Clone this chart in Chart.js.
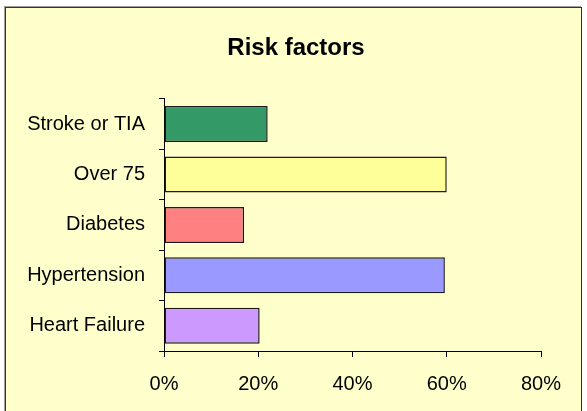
<!DOCTYPE html>
<html lang="en">
<head>
  <meta charset="UTF-8" />
  <title>Risk factors</title>
  <script src="https://cdn.jsdelivr.net/npm/chart.js"></script>
  <style>
    body {
      margin: 0;
      background-color: #ffffff;
    }
    .box {
      position: absolute;
      left: 5px;
      top: 7px;
      width: 575px;
      height: 420px;
      background-color: #FFFFCC;
      border: 1px solid #333333;
      box-shadow: -1px -1px 0 #a0a0a0;
    }
    canvas {
      position: absolute;
      left: 0;
      top: 0;
    }
  </style>
</head>
<body>
  <div class="box"></div>
  <canvas id="riskChart" width="587" height="411"></canvas>

  <script>
    const categories = ["Stroke or TIA", "Over 75", "Diabetes", "Hypertension", "Heart Failure"];
    const percentValues = [22, 60, 17, 59.6, 20.3];
    const barColors = ["#339966", "#FFFF99", "#FF8080", "#9999FF", "#CC99FF"];
    const tickValues = [0, 20, 40, 60, 80];

    const font = "'Liberation Sans', Arial, sans-serif";

    const ctx = document.getElementById("riskChart").getContext("2d");

    // title is centred on the whole box, not on the padded area
    const centerTitle = {
      id: "centerTitle",
      afterLayout(chart) {
        if (chart.titleBlock) {
          chart.titleBlock.left = 5;
          chart.titleBlock.right = 587;
        }
      }
    };

    new Chart(ctx, {
      type: "bar",
      data: {
        labels: categories,
        datasets: [{
          data: percentValues,
          backgroundColor: barColors,
          borderColor: "#1a1a1a",
          borderWidth: 1.5,
          borderSkipped: false,
          barPercentage: 0.714,
          categoryPercentage: 1
        }]
      },
      options: {
        indexAxis: "y",
        responsive: false,
        animation: false,
        devicePixelRatio: 1,
        layout: {
          padding: { top: 20, left: 0, right: 46, bottom: 0 }
        },
        plugins: {
          legend: { display: false },
          tooltip: { enabled: false },
          title: {
            display: true,
            text: "Risk factors",
            color: "#000000",
            font: { family: font, size: 24, weight: "bold" },
            padding: { top: 14, bottom: 36 }
          }
        },
        scales: {
          x: {
            min: 0,
            max: 80,
            afterBuildTicks: scale => {
              scale.ticks = tickValues.map(v => ({ value: v }));
            },
            afterFit: scale => { scale.height = 60; },
            ticks: {
              color: "#000000",
              font: { family: font, size: 20 },
              padding: 15,
              callback: v => v + "%"
            },
            grid: {
              drawOnChartArea: false,
              drawTicks: true,
              tickLength: 6,
              color: "#000000"
            },
            border: { display: true, color: "#000000", width: 1 }
          },
          y: {
            afterFit: scale => { scale.width = 164; },
            ticks: {
              color: "#000000",
              font: { family: font, size: 20 },
              padding: 14
            },
            grid: {
              offset: true,
              drawOnChartArea: false,
              drawTicks: true,
              tickLength: 5,
              color: "#000000"
            },
            border: { display: true, color: "#000000", width: 1 }
          }
        }
      },
      plugins: [centerTitle]
    });
  </script>
</body>
</html>
